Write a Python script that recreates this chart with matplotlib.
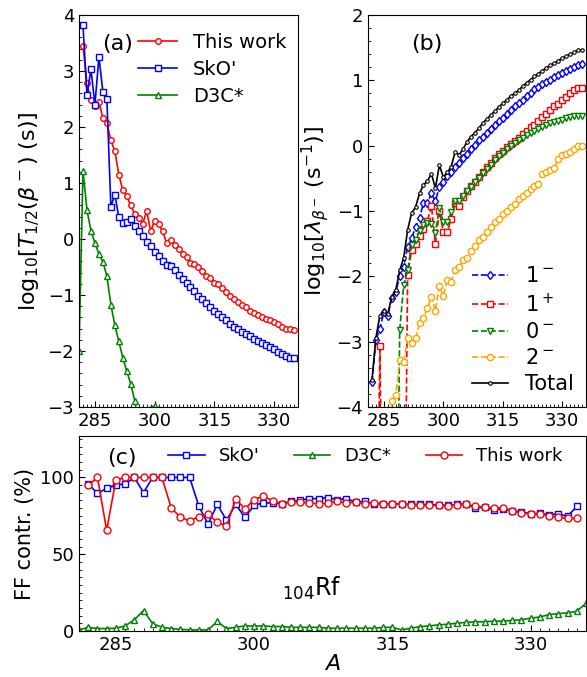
import matplotlib
matplotlib.use('Agg')
import matplotlib.pyplot as plt
from matplotlib.ticker import MultipleLocator

plt.rcParams['font.family'] = ['DejaVu Sans']
plt.rcParams['mathtext.fontset'] = 'dejavusans'

# ---------------- data ----------------
A = list(range(282, 336))          # mass numbers for main series
A_d3c = list(range(281, 337))      # D3C* mass numbers

# panel (a): log10 T1/2 (s)
a_this = [3.44, 2.78, 2.48, 2.37, 2.45, 2.16, 2.07, 1.76, 1.57, 1.15,
          0.87, 0.76, 0.60, 0.45, 0.37, 0.27, 0.50, 0.14, 0.33, 0.26,
          0.14, -0.07, -0.02, -0.10, -0.18, -0.27, -0.33, -0.42, -0.45, -0.50,
          -0.58, -0.66, -0.69, -0.78, -0.81, -0.88, -0.95, -1.02, -1.08, -1.12,
          -1.17, -1.22, -1.28, -1.32, -1.35, -1.39, -1.42, -1.45, -1.48, -1.51,
          -1.57, -1.60, -1.61, -1.63]
a_sko = [3.82, 2.57, 3.03, 2.40, 3.25, 2.63, 2.50,
         0.58, 0.79, 0.39, 0.28, 0.30, 0.36, 0.23, 0.15, 0.05, -0.06,
         -0.13, -0.23, -0.31, -0.39, -0.47, -0.49, -0.55, -0.64, -0.72, -0.78,
         -0.86, -0.93, -1.01, -1.08, -1.15, -1.21, -1.28, -1.34, -1.39, -1.45,
         -1.51, -1.57, -1.61, -1.66, -1.69, -1.73, -1.78, -1.82, -1.86, -1.89,
         -1.93, -1.97, -2.01, -2.06, -2.09, -2.12, -2.13]
a_d3c = [-2.0, 1.22, 0.52, 0.15, -0.07, -0.27, -0.41, -0.66, -1.17, -1.54,
         -1.83, -2.12, -2.36, -2.59, -2.89, -3.3, -3.4, -3.2, -3.02, -2.98,
         -3.03, -3.3,
         -3.4, -3.5, -3.6, -3.6, -3.7, -3.7, -3.8, -3.8, -3.9, -3.9,
         -4.0, -4.0, -4.1, -4.1, -4.1, -4.2, -4.2, -4.2, -4.3, -4.3,
         -4.3, -4.3, -4.4, -4.4, -4.4, -4.4, -4.5, -4.5, -4.5, -4.5,
         -4.5, -4.6, -4.6, -4.6]

# panel (b): log10 lambda (s^-1) by multipole
b_1m = [-3.62, -2.97, -2.80, -2.55, -2.60, -2.33, -2.24, -2.00, -1.85, -1.55,
        -1.42, -1.25, -1.10, -0.88, -0.87, -0.73, -0.85, -0.63, -0.56, -0.47,
        -0.40, -0.32, -0.26, -0.19, -0.12, -0.05, 0.01, 0.08, 0.14, 0.20,
        0.26, 0.32, 0.38, 0.43, 0.49, 0.54, 0.60, 0.65, 0.70, 0.76,
        0.81, 0.86, 0.90, 0.94, 0.98, 1.01, 1.05, 1.08, 1.11, 1.14,
        1.17, 1.20, 1.23, 1.25]
b_1p = [-8.0, -8.0, -3.06, -8.0, -8.0, -8.0, -8.0, -8.0, -8.0, -1.98,
        -1.60, -1.50, -1.38, -1.28, -1.15, -0.92, -1.50, -1.00, -1.32, -1.32,
        -1.12, -0.87, -0.92, -0.78, -0.70, -0.62, -0.55, -0.48, -0.40, -0.33,
        -0.26, -0.19, -0.12, -0.08, -0.02, 0.02, 0.07, 0.12, 0.18, 0.23,
        0.28, 0.31, 0.38, 0.44, 0.49, 0.55, 0.60, 0.64, 0.70, 0.75,
        0.80, 0.85, 0.88, 0.88]
b_0m = [-8.0, -8.0, -8.0, -8.0, -8.0, -8.0, -8.0, -2.82, -2.14, -1.91,
        -1.52, -1.45, -1.30, -1.22, -1.18, -1.20, -1.33, -0.96, -1.17, -1.17,
        -1.02, -0.84, -0.84, -0.77, -0.70, -0.63, -0.56, -0.49, -0.42, -0.36,
        -0.29, -0.22, -0.16, -0.11, -0.05, -0.01, 0.04, 0.08, 0.12, 0.16,
        0.20, 0.23, 0.26, 0.29, 0.31, 0.34, 0.36, 0.38, 0.40, 0.42,
        0.44, 0.45, 0.46, 0.46]
b_2m = [-8.0, -8.0, -8.0, -8.0, -4.6, -3.91, -3.82, -3.28, -3.31, -2.95,
        -3.02, -2.95, -2.72, -2.64, -2.49, -2.31, -2.53, -2.15, -2.30, -2.06,
        -2.08, -1.91, -1.86, -1.75, -1.72, -1.61, -1.54, -1.45, -1.40, -1.32,
        -1.24, -1.17, -1.13, -1.04, -1.00, -0.94, -0.89, -0.82, -0.77, -0.72,
        -0.67, -0.62, -0.58, -0.43, -0.41, -0.38, -0.34, -0.20, -0.15, -0.13,
        -0.10, -0.05, -0.01, 0.00]
b_tot = [-3.59, -2.94, -2.60, -2.53, -2.58, -2.31, -2.21, -1.91, -1.72, -1.29,
         -1.03, -0.94, -0.73, -0.60, -0.54, -0.43, -0.65, -0.30, -0.48, -0.41,
         -0.32, -0.09, -0.14, -0.05, 0.06, 0.14, 0.20, 0.27, 0.35, 0.41,
         0.47, 0.53, 0.59, 0.65, 0.70, 0.76, 0.80, 0.85, 0.91, 0.96,
         1.01, 1.06, 1.10, 1.15, 1.19, 1.23, 1.26, 1.30, 1.34, 1.37,
         1.40, 1.43, 1.46, 1.46]

# panel (c): first-forbidden contribution (%)
c_sko = [95.8, 89.6, 92.9, 95.1, 95.8, 100.0, 90.2, 100.0, 100.0, 100.0,
         100.0, 100.0, 81.3, 69.6, 82.4, 72.2, 82.4, 74.0, 81.8, 83.6,
         83.3, 82.9, 84.4, 85.1, 86.2, 86.2, 86.9, 85.6, 86.2, 84.0,
         84.4, 82.9, 82.9, 82.9, 82.9, 82.4, 82.4, 82.4, 82.2, 81.8,
         82.4, 82.9, 80.0, 80.7, 78.9, 79.6, 78.0, 77.8, 76.2, 76.7,
         75.8, 76.2, 74.7, 81.1]
c_this = [94.9, 100.0, 65.6, 98.4, 100.0, 100.0, 100.0, 100.0, 100.0, 80.2,
          74.0, 71.8, 74.4, 76.2, 70.7, 68.4, 85.8, 79.6, 85.6, 87.8,
          84.7, 82.9, 84.0, 84.0, 83.3, 82.9, 83.3, 84.4, 83.3, 84.0,
          82.9, 83.3, 82.9, 82.4, 82.9, 82.2, 82.2, 81.8, 81.8, 81.6,
          82.2, 82.4, 81.3, 80.7, 80.2, 80.2, 78.0, 76.9, 76.2, 76.2,
          75.1, 74.0, 73.3, 73.3]
c_d3c = [0.7, 2.4, 1.6, 1.6, 1.8, 3.3, 7.3, 13.3, 4.7, 2.4,
         1.6, 1.1, 0.7, 0.7, 0.7, 6.2, 1.6, 2.4, 3.3, 3.3,
         3.3, 2.9, 2.9, 2.4, 2.4, 2.4, 2.4, 1.8, 1.8, 1.8,
         1.8, 1.8, 1.8, 2.4, 2.4, 0.7, 1.8, 2.9, 3.3, 4.0,
         4.4, 5.1, 5.6, 6.0, 6.0, 6.4, 6.4, 6.9, 7.3, 8.4,
         9.1, 10.7, 11.3, 11.8, 12.9, 18.0]

xticks = [285, 300, 315, 330]

# ---------------- figure ----------------
W, H = 587, 677
fig = plt.figure(figsize=(W / 100, H / 100), dpi=100)
axa = fig.add_axes([79 / W, 1 - 407 / H, 219 / W, 392 / H])
axb = fig.add_axes([368 / W, 1 - 407 / H, 218 / W, 392 / H])
axc = fig.add_axes([79 / W, 1 - 631 / H, 507 / W, 195 / H])

for ax in (axa, axb, axc):
    ax.set_xlim(281, 336)
    ax.set_xticks(xticks)
    ax.xaxis.set_minor_locator(MultipleLocator(1))
    ax.tick_params(which='both', direction='in', labelsize=13)
    ax.tick_params(which='major', length=4)
    ax.tick_params(which='minor', length=2)

lw = 1.2
# ---- (a)
axa.plot(A, a_this, '-o', color='red', mfc='white', ms=4, lw=lw, mew=1, label='This work')
axa.plot(A, a_sko, '-s', color='blue', mfc='white', ms=4, lw=lw, mew=1, label="SkO'")
axa.plot(A_d3c, a_d3c, '-^', color='green', mfc='white', ms=4.5, lw=lw, mew=1, label='D3C*')
axa.set_ylim(-3, 4)
axa.yaxis.set_minor_locator(MultipleLocator(0.2))
axa.set_ylabel(r'log$_{10}$[$T_{1/2}(\beta^-)$ (s)]', fontsize=16)
axa.text(0.105, 0.925, '(a)', transform=axa.transAxes, fontsize=16, va='center')
axa.legend(loc='upper right', bbox_to_anchor=(1.0, 0.985), frameon=False, fontsize=14,
           handlelength=2.0, borderaxespad=0.2, labelspacing=0.42, handletextpad=0.8)

# ---- (b)
axb.plot(A, b_1m, '--d', color='blue', mfc='white', ms=4.5, lw=lw, mew=1, label=r'$1^-$')
axb.plot(A, b_1p, '--s', color='red', mfc='white', ms=4.5, lw=lw, mew=1, label=r'$1^+$')
axb.plot(A, b_0m, '--v', color='green', mfc='white', ms=4.5, lw=lw, mew=1, label=r'$0^-$')
axb.plot(A, b_2m, '--o', color='orange', mfc='white', ms=4.5, lw=lw, mew=1, label=r'$2^-$')
axb.plot(A, b_tot, '-o', color='black', mfc='white', ms=2.5, lw=lw, mew=0.8, label='Total')
axb.set_ylim(-4, 2)
axb.yaxis.set_minor_locator(MultipleLocator(0.2))
axb.set_ylabel(r'log$_{10}$[$\lambda_{\beta^-}$ (s$^{-1}$)]', fontsize=16)
axb.text(0.2, 0.925, '(b)', transform=axb.transAxes, fontsize=16, va='center')
axb.legend(loc='lower right', frameon=False, fontsize=15, handlelength=1.75,
           borderaxespad=0.2, labelspacing=0.3, handletextpad=0.8)

# ---- (c)
axc.plot(A, c_sko, '-s', color='blue', mfc='white', ms=5, lw=lw, mew=1, label="SkO'")
axc.plot(A_d3c, c_d3c, '-^', color='green', mfc='white', ms=5, lw=lw, mew=1, label='D3C*')
axc.plot(A, c_this, '-o', color='red', mfc='white', ms=5, lw=lw, mew=1, label='This work')
axc.set_ylim(0, 127)
axc.set_yticks([0, 50, 100])
axc.yaxis.set_minor_locator(MultipleLocator(5))
axc.set_ylabel('FF contr. (%)', fontsize=15)
axc.set_xlabel(r'$A$', fontsize=16, labelpad=0)
axc.text(0.055, 0.887, '(c)', transform=axc.transAxes, fontsize=16, va='center')
axc.text(0.46, 0.22, r'$_{104}$Rf', transform=axc.transAxes, fontsize=17, ha='center', va='center')
axc.legend(loc='upper left', bbox_to_anchor=(0.155, 1.0), ncol=3, frameon=False,
           fontsize=13, handlelength=2.0, borderaxespad=0.2, columnspacing=1.9, handletextpad=0.8)

fig.savefig('out.png', dpi=100)
